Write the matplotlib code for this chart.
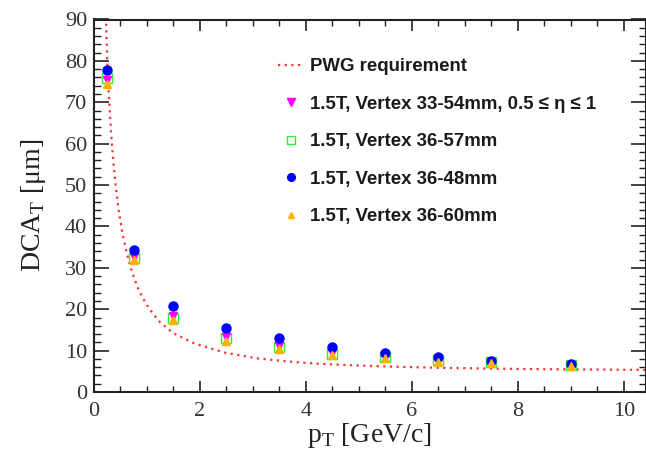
import matplotlib
matplotlib.use("Agg")
import matplotlib.pyplot as plt
from matplotlib.ticker import MultipleLocator

# === Données
pt_bins = [0.25, 0.75, 1.5, 2.5, 3.5, 4.5, 5.5, 6.5, 7.5, 9.0]

dca_33_54_eta = [75.5, 32.5, 18.3, 13.2, 11.0, 9.4, 8.6, 7.8, 7.2, 6.5]
dca_36_57 = [75.9, 32.3, 18.0, 13.0, 10.8, 9.3, 8.5, 7.7, 7.2, 6.6]
dca_36_48 = [77.9, 34.3, 20.8, 15.5, 13.0, 10.9, 9.5, 8.5, 7.6, 6.8]
dca_36_60 = [74.4, 31.9, 17.5, 12.4, 10.4, 9.0, 8.1, 7.3, 6.9, 6.2]

# courbe "PWG requirement" (points relevés)
pwg_pt = [0.23, 0.25, 0.28, 0.32, 0.36, 0.41, 0.47, 0.54, 0.63, 0.7, 0.82, 0.92, 1.0,
          1.12, 1.25, 1.5, 1.9, 2.5, 3.1, 3.8, 4.4, 5.0, 5.7, 6.5, 7.5, 8.5, 9.5, 10.41]
pwg_dca = [89.0, 80.0, 72.0, 63.0, 56.5, 49.8, 43.6, 38.0, 33.0, 29.7, 25.4, 22.7, 21.0,
           18.8, 16.8, 14.2, 11.7, 9.4, 8.1, 7.2, 6.7, 6.4, 6.1, 5.85, 5.65, 5.5, 5.42, 5.35]

legend_labels = [
    "PWG requirement",
    "1.5T, Vertex 33-54mm, 0.5 \u2264 \u03b7 \u2264 1",
    "1.5T, Vertex 36-57mm",
    "1.5T, Vertex 36-48mm",
    "1.5T, Vertex 36-60mm",
]

# === Style
plt.rcParams['font.family'] = ['Liberation Serif', 'DejaVu Serif']
plt.rcParams['mathtext.fontset'] = 'custom'
plt.rcParams['mathtext.rm'] = 'Liberation Serif'

fig = plt.figure(figsize=(6.46, 4.49), dpi=100)
fig.patch.set_facecolor('white')
ax = fig.add_axes([94 / 646, 57 / 449, 551.5 / 646, 372.5 / 449])

h_pwg, = ax.plot(pwg_pt, pwg_dca, color='#ff3030', lw=1.6, ls=(0, (1, 2)), zorder=2)

h_green, = ax.plot(pt_bins, dca_36_57, ls='none', marker='s', ms=7, mfc='none',
                   mec='#33ee33', mew=1.0, zorder=3)
h_mag, = ax.plot(pt_bins, dca_33_54_eta, ls='none', marker='v', ms=6, color='#ff00ff', zorder=4)
h_blue, = ax.plot(pt_bins, dca_36_48, ls='none', marker='o', ms=6.5, color='#0000ff', zorder=5)
h_orange, = ax.plot(pt_bins, dca_36_60, ls='none', marker='^', ms=5.5, color='#ffb000', zorder=6)

ax.set_xlim(0, 10.41)
ax.set_ylim(0, 90)

ax.xaxis.set_major_locator(MultipleLocator(2))
ax.xaxis.set_minor_locator(MultipleLocator(0.5))
ax.yaxis.set_major_locator(MultipleLocator(10))
ax.yaxis.set_minor_locator(MultipleLocator(2))

ax.tick_params(axis='both', which='both', direction='in', top=True, right=True,
               color='#222222', labelcolor='#333333', labelsize=16)
ax.tick_params(axis='x', which='major', length=8, width=1.2, pad=7)
ax.tick_params(axis='x', which='minor', length=4, width=1.0)
ax.tick_params(axis='y', which='major', length=11, width=1.2, pad=5)
ax.tick_params(axis='y', which='minor', length=5, width=1.0)
for s in ax.spines.values():
    s.set_linewidth(1.5)
    s.set_color('#222222')

ax.set_xlabel("p$_\\mathrm{T}$ [GeV/c]", fontsize=20, color='#222222')
ax.set_ylabel("DCA$_\\mathrm{T}$ [\u03bcm]", fontsize=20, color='#222222')
ax.xaxis.set_label_coords(0.5, -0.078)
ax.yaxis.set_label_coords(-0.084, 0.5)

leg = ax.legend([h_pwg, h_mag, h_green, h_blue, h_orange], legend_labels,
                loc='upper left', bbox_to_anchor=(278 / 646, 1 - 58 / 449),
                bbox_transform=fig.transFigure, frameon=False, numpoints=1,
                borderpad=0, borderaxespad=0, handlelength=1.35, handletextpad=0.35,
                labelspacing=1.1, markerscale=0.85,
                prop={'family': 'Liberation Sans', 'weight': 'bold', 'size': 13.4})
for t in leg.get_texts():
    t.set_color('#1a1a1a')

plt.savefig("out.png", dpi=100)
